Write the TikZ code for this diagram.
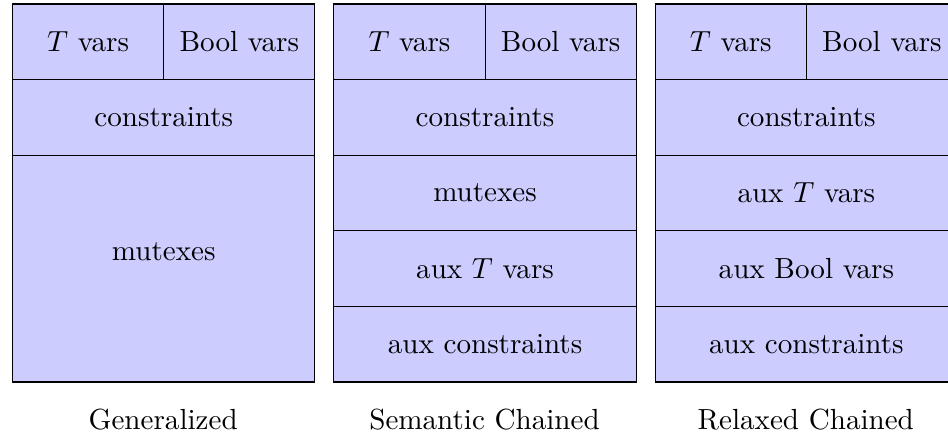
\documentclass[tikz,border=0pt]{standalone}
\begin{document}
\begin{tikzpicture}[
  font=\fontsize{10.95}{13.6}\selectfont,
  cell/.style={draw=black, fill=blue!20, rectangle, inner sep=0pt,
               minimum width=4cm, minimum height=1cm, anchor=north west},
  halfcell/.style={cell, minimum width=2cm},
  caption/.style={inner sep=0pt, anchor=base}
]
\useasboundingbox (-0.159,0.046) rectangle (12.381,-5.748);

% Generalized
\node[halfcell] (g-tv)  at (0,0)  {$T$ vars};
\node[halfcell] (g-bv)  at (2,0)  {Bool vars};
\node[cell]     (g-con) at (0,-1) {constraints};
\node[cell, minimum height=3cm] (g-mut) at (0,-2) {};
\node (g-mut-txt) at ([yshift=0.22cm]g-mut.center) {mutexes};
\node[caption]  (g-cap) at (2,-5.64) {Generalized};

% Semantic Chained
\node[halfcell] (s-tv)  at (4.25,0)  {$T$ vars};
\node[halfcell] (s-bv)  at (6.25,0)  {Bool vars};
\node[cell]     (s-con) at (4.25,-1) {constraints};
\node[cell]     (s-mut) at (4.25,-2) {mutexes};
\node[cell]     (s-atv) at (4.25,-3) {aux $T$ vars};
\node[cell]     (s-acn) at (4.25,-4) {aux constraints};
\node[caption]  (s-cap) at (6.25,-5.64) {Semantic Chained};

% Relaxed Chained
\node[halfcell] (r-tv)  at (8.5,0)  {$T$ vars};
\node[halfcell] (r-bv)  at (10.5,0) {Bool vars};
\node[cell]     (r-con) at (8.5,-1) {constraints};
\node[cell]     (r-atv) at (8.5,-2) {aux $T$ vars};
\node[cell]     (r-abv) at (8.5,-3) {aux Bool vars};
\node[cell]     (r-acn) at (8.5,-4) {aux constraints};
\node[caption]  (r-cap) at (10.5,-5.64) {Relaxed Chained};
\end{tikzpicture}
\end{document}
